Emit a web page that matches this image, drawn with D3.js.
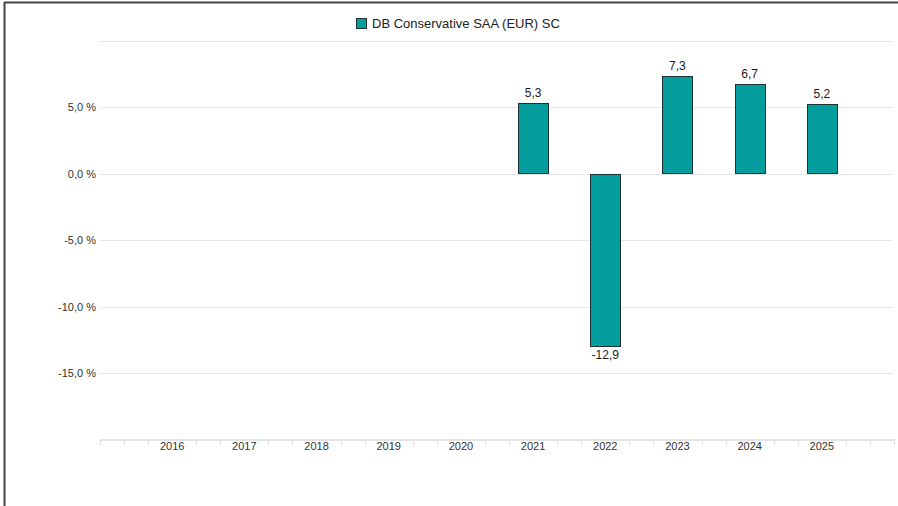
<!DOCTYPE html>
<html>
<head>
<meta charset="utf-8">
<script src="https://cdn.jsdelivr.net/npm/d3@7"></script>
<style>
  body { margin: 0; background: #fff; }
  svg { display: block; font-family: "Liberation Sans", Arial, sans-serif; }
</style>
</head>
<body>
<svg id="chart" width="898" height="506"></svg>
<script>
// Data
const seriesName = "DB Conservative SAA (EUR) SC";
const years = [2016, 2017, 2018, 2019, 2020, 2021, 2022, 2023, 2024, 2025];
const values = [null, null, null, null, null, 5.3, -12.9, 7.3, 6.7, 5.2];
const yTicks = [-20, -15, -10, -5, 0, 5, 10];
const yLabelTicks = [-15, -10, -5, 0, 5];

const svg = d3.select("#chart");
const barColour = "#039d9d";
// comma decimal, plain hyphen for negatives
const fmt = v => d3.format(".1f")(v).replace(".", ",").replace("\u2212", "-");

// Scales
const x = d3.scaleLinear().domain([2015, 2026]).range([100, 894]);
const y = d3.scaleLinear().domain([-20, 10]).range([439.5, 40.5]);

// Frame (left + top)
svg.append("line").attr("x1", 4.5).attr("x2", 4.5).attr("y1", 2).attr("y2", 506)
    .attr("stroke", "#444").attr("stroke-width", 2);
svg.append("line").attr("x1", 4).attr("x2", 898).attr("y1", 2.5).attr("y2", 2.5)
    .attr("stroke", "#444").attr("stroke-width", 2);

// Grid lines
svg.append("g").selectAll("line")
    .data(yTicks.filter(d => d !== -20))
    .enter().append("line")
    .attr("x1", 100).attr("x2", 893)
    .attr("y1", d => Math.round(y(d)) + 0.5)
    .attr("y2", d => Math.round(y(d)) + 0.5)
    .attr("stroke", "#e6e6e6")
    .attr("stroke-width", 1);

// Y labels
svg.append("g").selectAll("text")
    .data(yLabelTicks)
    .enter().append("text")
    .attr("x", 96)
    .attr("y", d => y(d) + 4)
    .attr("text-anchor", "end")
    .attr("font-size", "11px")
    .attr("fill", "#333")
    .text(d => fmt(d) + " %");

// X axis line
svg.append("line").attr("x1", 100).attr("x2", 895).attr("y1", 440).attr("y2", 440)
    .attr("stroke", "#e3e3e3").attr("stroke-width", 2);

// Minor ticks every third of a year, hidden where a year label sits
const minor = d3.range(0, 34).map(i => 2015 + i / 3)
    .filter(t => !years.includes(Math.round(t)) || Math.abs(t - Math.round(t)) > 0.01);
svg.append("g").selectAll("line")
    .data(minor)
    .enter().append("line")
    .attr("x1", d => Math.round(x(d)) + 0.5)
    .attr("x2", d => Math.round(x(d)) + 0.5)
    .attr("y1", 440).attr("y2", 445)
    .attr("stroke", "#e0e0e0").attr("stroke-width", 1);

// X labels
svg.append("g").selectAll("text")
    .data(years)
    .enter().append("text")
    .attr("x", d => x(d))
    .attr("y", 450)
    .attr("text-anchor", "middle")
    .attr("font-size", "11px")
    .attr("fill", "#333")
    .text(d => d);

// Bars
const data = years.map((yr, i) => ({ year: yr, value: values[i] })).filter(d => d.value !== null);
const barW = 30;

svg.append("g").selectAll("rect")
    .data(data)
    .enter().append("rect")
    .attr("x", d => Math.round(x(d.year) - barW / 2) + 0.5)
    .attr("y", d => Math.round(y(Math.max(0, d.value))) + 0.5)
    .attr("width", barW)
    .attr("height", d => Math.round(Math.abs(y(d.value) - y(0))))
    .attr("fill", barColour)
    .attr("stroke", "#1d3333")
    .attr("stroke-width", 1);

// Value labels
svg.append("g").selectAll("text")
    .data(data)
    .enter().append("text")
    .attr("x", d => x(d.year))
    .attr("y", d => d.value >= 0 ? y(d.value) - 6 : y(d.value) + 14)
    .attr("text-anchor", "middle")
    .attr("font-size", "12px")
    .attr("fill", "#1a1a1a")
    .text(d => fmt(d.value));

// Legend
const legend = svg.append("g");
legend.append("rect")
    .attr("x", 356.5).attr("y", 18.5).attr("width", 10).attr("height", 10)
    .attr("fill", barColour).attr("stroke", "#1d3333").attr("stroke-width", 1);
legend.append("text")
    .attr("x", 372).attr("y", 28)
    .attr("font-size", "13px")
    .attr("fill", "#222")
    .text(seriesName);
</script>
</body>
</html>
